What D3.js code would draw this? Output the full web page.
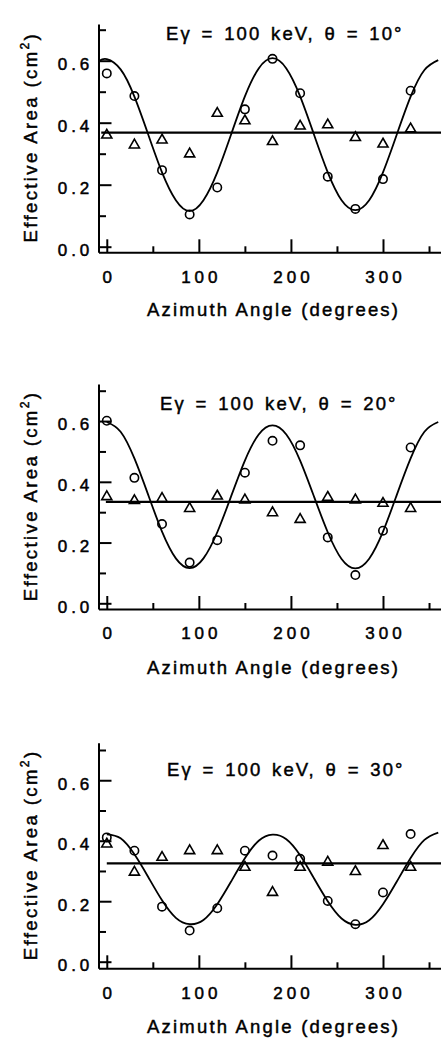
<!DOCTYPE html>
<html><head><meta charset="utf-8">
<script src="https://cdn.jsdelivr.net/npm/d3@7"></script>
<style>html,body{margin:0;padding:0;background:#fff;} svg{display:block;}</style>
</head><body>
<script>
// ---------- data ----------
const angles = [0,30,60,90,120,150,180,210,240,270,300,330];

const titles = ["Eγ = 100 keV, θ = 10°", "Eγ = 100 keV, θ = 20°", "Eγ = 100 keV, θ = 30°"];

const circles10   = [0.559,0.486,0.247,0.104,0.191,0.443,0.606,0.495,0.226,0.122,0.218,0.503];
const triangles10 = [0.360,0.328,0.344,0.299,0.430,0.406,0.339,0.389,0.393,0.352,0.331,0.380];
const circles20   = [0.601,0.413,0.261,0.134,0.208,0.430,0.535,0.520,0.217,0.093,0.239,0.513];
const triangles20 = [0.351,0.338,0.345,0.312,0.353,0.340,0.298,0.276,0.349,0.340,0.329,0.312];
const circles30   = [0.411,0.367,0.182,0.103,0.177,0.367,0.351,0.340,0.201,0.124,0.229,0.422];
const triangles30 = [0.389,0.296,0.345,0.367,0.367,0.312,0.229,0.312,0.329,0.298,0.384,0.312];

const means = [0.368, 0.334, 0.325];
const meanStart = [-6, -1, 0];

// fitted curves, every 15 degrees
const curveAngles10 = [-8,0,15,30,45,60,75,90,105,120,135,150,165,180,195,210,225,240,255,270,285,300,315,330,345,360];
const curve10 = [0.600,0.605,0.572,0.484,0.362,0.240,0.150,0.115,0.150,0.240,0.362,0.485,0.575,0.608,0.575,0.485,0.362,0.240,0.150,0.118,0.150,0.240,0.362,0.484,0.570,0.602];
const curveAngles = [0,15,30,45,60,75,90,105,120,135,150,165,180,195,210,225,240,255,270,285,300,315,330,345,360];
const curve20 = [0.597,0.565,0.477,0.357,0.236,0.148,0.116,0.148,0.234,0.352,0.470,0.556,0.586,0.556,0.470,0.352,0.234,0.146,0.115,0.147,0.236,0.357,0.477,0.565,0.597];
const curve30 = [0.421,0.408,0.355,0.280,0.203,0.145,0.124,0.138,0.190,0.265,0.342,0.400,0.420,0.405,0.352,0.276,0.200,0.143,0.122,0.137,0.190,0.265,0.343,0.403,0.427];

const xMajor = [0,100,200,300];
const xMinor = [50,150,250,350];
const yMajor = [0.0,0.2,0.4,0.6];
const yMinor = [0.1,0.3,0.5,0.7];

// ---------- layout ----------
const W = 441, H = 1039;
const FONT = "'Liberation Sans', Arial, Helvetica, sans-serif";
const layout = [
  {top: 24,    y0: 246.7, y07: 29.7,  bottom: 252.3, titleX: 166, titleY: 40,  xlabY: 316},
  {top: 384,   y0: 603.3, y07: 390.7, bottom: 609,   titleX: 160, titleY: 410, xlabY: 674},
  {top: 742.7, y0: 961.7, y07: 750,   bottom: 968.3, titleX: 167, titleY: 776, xlabY: 1033}
];
const series = [
  {c: circles10, t: triangles10, ca: curveAngles10, cv: curve10},
  {c: circles20, t: triangles20, ca: curveAngles,   cv: curve20},
  {c: circles30, t: triangles30, ca: curveAngles,   cv: curve30}
];

const svg = d3.select("body").append("svg").attr("width", W).attr("height", H)
  .style("font-family", FONT);

const x = d3.scaleLinear().domain([-9, 363]).range([98.5, 441]);

layout.forEach((L, i) => {
  const S = series[i];
  const k = (L.y0 - L.y07) / 0.7;
  const y = d3.scaleLinear()
    .domain([(L.y0 - L.bottom) / k, (L.y0 - L.top) / k])
    .range([L.bottom, L.top]);
  const g = svg.append("g");

  // x axis
  const xa = g.append("g").attr("transform", `translate(0,${L.bottom})`)
    .call(d3.axisBottom(x).tickValues(xMajor).tickSizeInner(-13).tickSizeOuter(0)
      .tickPadding(18.2).tickFormat(d3.format("d")));
  g.append("g").attr("transform", `translate(0,${L.bottom})`)
    .call(d3.axisBottom(x).tickValues(xMinor).tickSizeInner(-6).tickSizeOuter(0).tickFormat(""))
    .select(".domain").remove();

  // y axis
  const ya = g.append("g").attr("transform", `translate(${x(-9)},0)`)
    .call(d3.axisLeft(y).tickValues(yMajor).tickSizeInner(-13).tickSizeOuter(0)
      .tickPadding(5.2).tickFormat(d3.format(".1f")));
  g.append("g").attr("transform", `translate(${x(-9)},0)`)
    .call(d3.axisLeft(y).tickValues(yMinor).tickSizeInner(-7.5).tickSizeOuter(0).tickFormat(""))
    .select(".domain").remove();

  g.selectAll(".domain").attr("stroke", "#000").attr("stroke-width", 2);
  g.selectAll(".tick line").attr("stroke", "#000").attr("stroke-width", 2);
  g.selectAll(".tick text")
    .attr("fill", "#000").attr("stroke", "#000").attr("stroke-width", 0.5)
    .style("font-family", FONT).style("font-size", "17px").style("letter-spacing", "4px");
  xa.selectAll(".tick text").attr("dx", 2);
  ya.selectAll(".tick text").attr("dy", 8.8);
  g.selectAll(".tick text").attr("font-size", null).attr("font-family", null);

  // fitted curve
  const pts = S.ca.map((a, j) => [a, S.cv[j]]);
  g.append("path").datum(pts)
    .attr("d", d3.line().x(d => x(d[0])).y(d => y(d[1])).curve(d3.curveNatural))
    .attr("fill", "none").attr("stroke", "#000").attr("stroke-width", 1.8);

  // mean line
  g.append("line")
    .attr("x1", x(meanStart[i])).attr("x2", x(363))
    .attr("y1", y(means[i])).attr("y2", y(means[i]))
    .attr("stroke", "#000").attr("stroke-width", 2.2);

  // circles
  g.selectAll("circle.pt").data(angles).join("circle").attr("class", "pt")
    .attr("cx", d => x(d)).attr("cy", (d, j) => y(S.c[j])).attr("r", 4.2)
    .attr("fill", "none").attr("stroke", "#000").attr("stroke-width", 1.6);

  // triangles
  const tri = d3.symbol().type(d3.symbolTriangle).size(44);
  g.selectAll("path.tri").data(angles).join("path").attr("class", "tri")
    .attr("transform", (d, j) => `translate(${x(d)},${y(S.t[j])})`)
    .attr("d", tri)
    .attr("fill", "none").attr("stroke", "#000").attr("stroke-width", 1.6);

  // title
  g.append("text").attr("x", L.titleX).attr("y", L.titleY)
    .attr("font-size", 18.5).attr("letter-spacing", "2.1px").attr("word-spacing", "2.5px")
    .attr("fill", "#000").attr("stroke", "#000").attr("stroke-width", 0.45)
    .text(titles[i]);

  // x label
  g.append("text").attr("x", 272.5 + 1.1).attr("y", L.xlabY)
    .attr("text-anchor", "middle").attr("font-size", 18.5).attr("letter-spacing", "2.2px")
    .attr("fill", "#000").attr("stroke", "#000").attr("stroke-width", 0.45)
    .text("Azimuth Angle (degrees)");

  // y label
  const yl = g.append("text")
    .attr("transform", `translate(36.5,${(L.y0 + L.y07) / 2 - 1}) rotate(-90)`)
    .attr("text-anchor", "middle").attr("font-size", 18.5).attr("letter-spacing", "2.4px")
    .attr("fill", "#000").attr("stroke", "#000").attr("stroke-width", 0.45);
  yl.append("tspan").text("Effective Area (cm");
  yl.append("tspan").attr("font-size", 12).attr("dy", -8).text("2");
  yl.append("tspan").attr("dy", 8).text(")");
});
</script>
</body></html>
